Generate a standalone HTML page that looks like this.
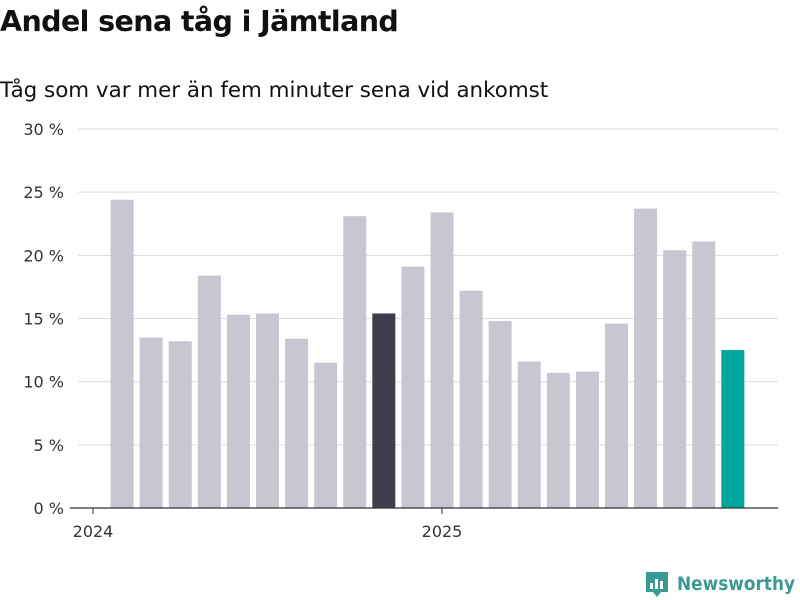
<!DOCTYPE html>
<html><head><meta charset="utf-8"><style>
body{margin:0;background:#fff;font-family:"Liberation Sans","DejaVu Sans",sans-serif;}
#wrap{position:relative;width:800px;height:600px;overflow:hidden}
h1{position:absolute;left:0;top:5px;margin:0;font-size:28.5px;font-weight:bold;color:#111;font-family:"DejaVu Sans",sans-serif;letter-spacing:-0.6px}
.sub{position:absolute;left:0;top:78px;font-size:21.4px;color:#111;font-family:"DejaVu Sans",sans-serif;}
</style></head><body>
<div id="wrap">
<h1>Andel sena tåg i Jämtland</h1>
<div class="sub">Tåg som var mer än fem minuter sena vid ankomst</div>
<svg id="chart" width="800" height="600" style="position:absolute;left:0;top:0"></svg>
</div>
<script>
const months=["2024-02","2024-03","2024-04","2024-05","2024-06","2024-07","2024-08","2024-09","2024-10","2024-11","2024-12","2025-01","2025-02","2025-03","2025-04","2025-05","2025-06","2025-07","2025-08","2025-09","2025-10","2025-11"];
const values=[24.4,13.5,13.2,18.4,15.3,15.4,13.4,11.5,23.1,15.4,19.1,23.4,17.2,14.8,11.6,10.7,10.8,14.6,23.7,20.4,21.1,12.5];
const yTicks=[0,5,10,15,20,25,30];
const yearTicks=[2024,2025];
const svg=document.getElementById('chart');
const NS='http://www.w3.org/2000/svg';
const y=v=>508-v*(379/30);
const monthIndex=s=>{const [a,b]=s.split('-').map(Number);return (a-2024)*12+(b-1);};
const x=m=>93+m*(349/12);
function mk(t,a){const e=document.createElementNS(NS,t);for(const k in a)e.setAttribute(k,a[k]);svg.appendChild(e);return e;}
yTicks.forEach(t=>{
 const g=mk('line',{x1:78,x2:778,y1:y(t),y2:y(t),stroke:'#dcdcdc','stroke-width':1});
 
 
 const l=mk('text',{x:64,y:y(t)+6,'text-anchor':'end','font-size':16,fill:'#333','font-family':'DejaVu Sans,sans-serif'});
 l.textContent=t+' %';
 
 
});
values.forEach((v,i)=>{
 const cx=x(monthIndex(months[i]));
 const fill=i===values.length-1?'#00a69c':(i===values.length-13?'#3f3d4b':'#c8c7d1');
 const r=mk('rect',{x:cx-11.5,y:y(v),width:23,height:y(0)-y(v),fill});
 
 
});
const ax=mk('line',{x1:70,x2:778,y1:508,y2:508,stroke:'#333','stroke-width':1.2});


yearTicks.forEach(yr=>{
 const px=x((yr-2024)*12);
 const t=mk('line',{x1:px,x2:px,y1:508,y2:514,stroke:'#333'});
 
 
 const l=mk('text',{x:px,y:537,'text-anchor':'middle','font-size':16,fill:'#333','font-family':'DejaVu Sans,sans-serif'});
 l.textContent=yr;
 
 
});
const logo=mk('g',{});


const ic=document.createElementNS(NS,'path');
ic.setAttribute('d','M646 572 h22 v20 h-7 l-4 5 l-4 -5 h-7 z');
ic.setAttribute('fill','#3a9a93');
logo.appendChild(ic);
[[650,583,3,6],[655,579,3,10],[660,581,3,8]].forEach(b=>{const r=document.createElementNS(NS,'rect');r.setAttribute('x',b[0]);r.setAttribute('y',b[1]);r.setAttribute('width',b[2]);r.setAttribute('height',b[3]);r.setAttribute('fill','#fff');logo.appendChild(r);});
const lt=document.createElementNS(NS,'text');
lt.setAttribute('x',677);lt.setAttribute('y',590);lt.setAttribute('font-size',19);lt.setAttribute('font-weight','bold');lt.setAttribute('fill','#3a9a93');lt.setAttribute('font-family','DejaVu Sans,sans-serif');
lt.setAttribute('textLength',118);lt.setAttribute('lengthAdjust','spacingAndGlyphs');
lt.textContent='Newsworthy';
logo.appendChild(lt);
svg.appendChild(logo);
</script>
</body></html>
